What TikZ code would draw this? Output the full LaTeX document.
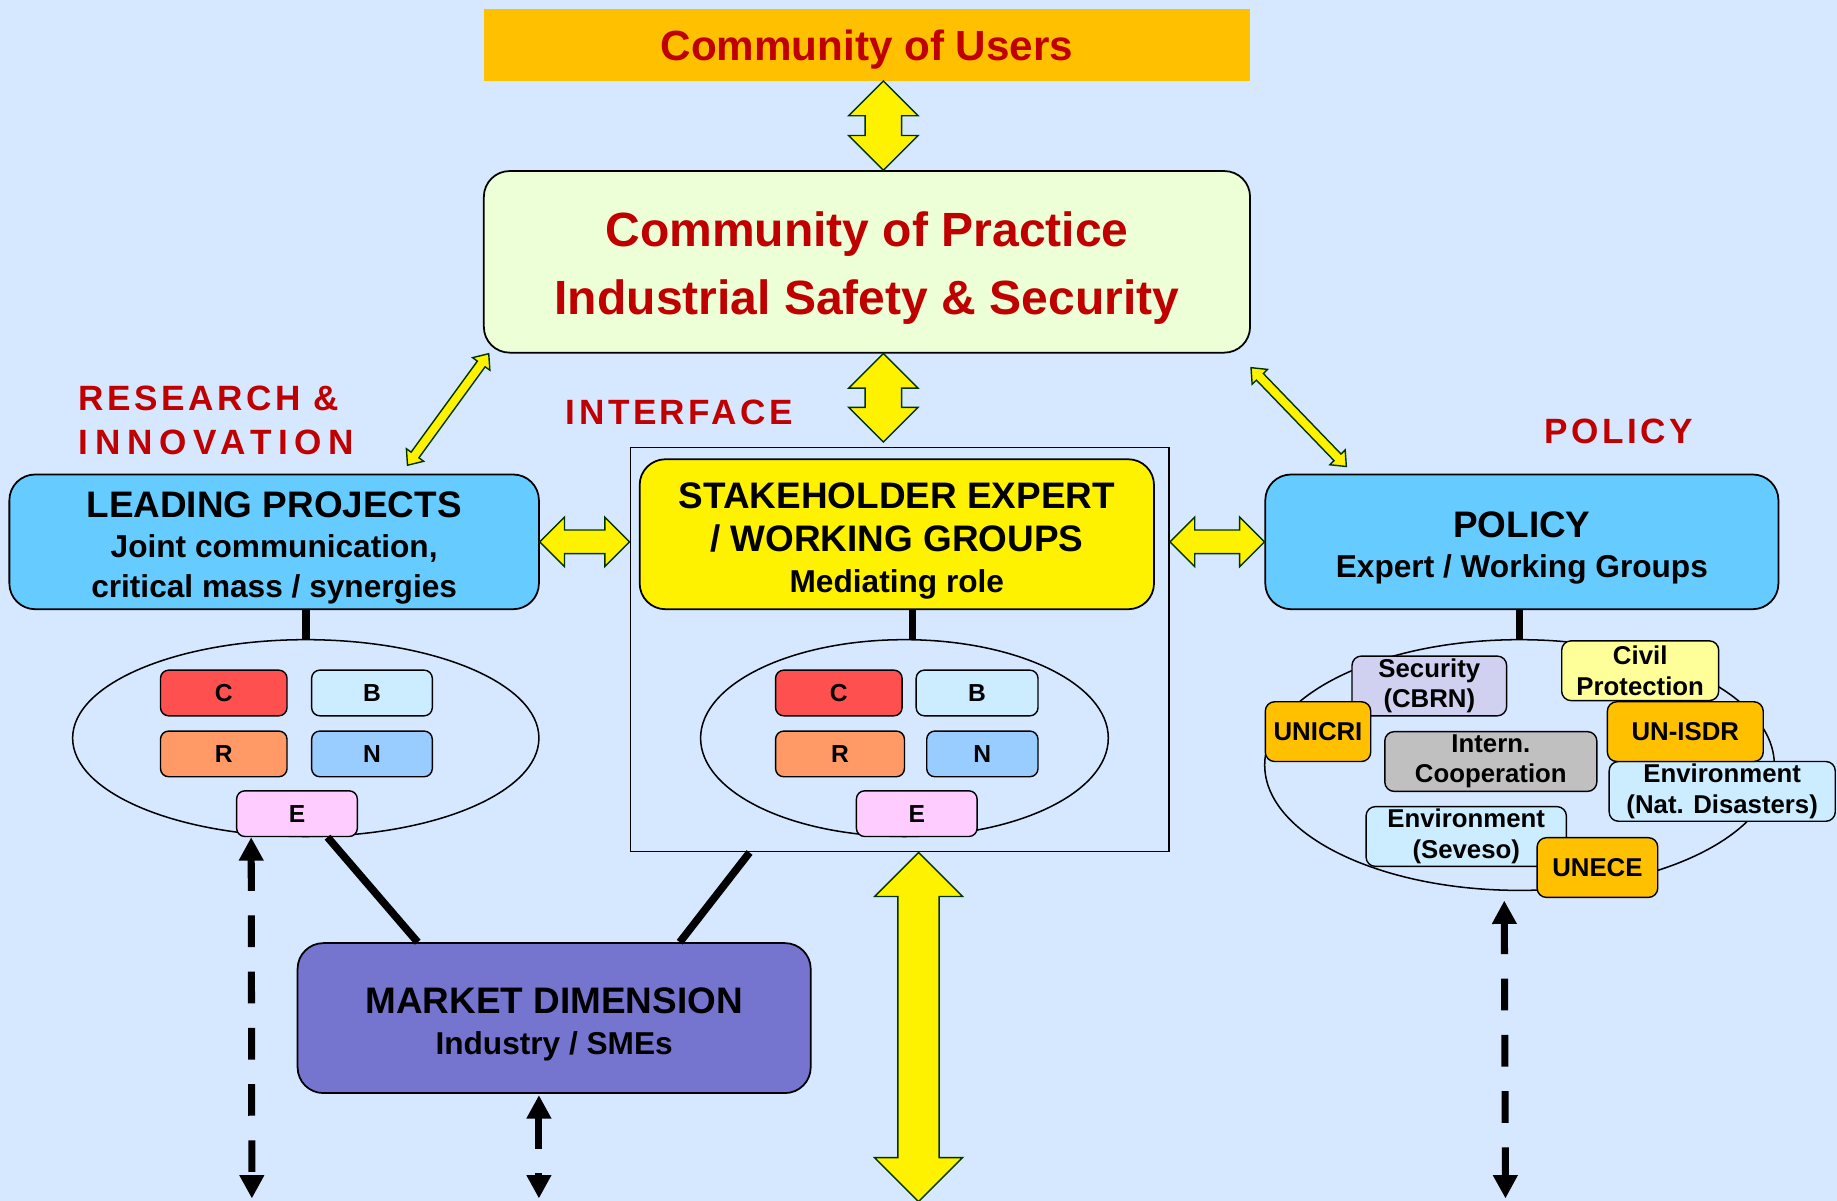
\documentclass[tikz,border=0pt]{standalone}
\usepackage{fontspec}
\setmainfont{Liberation Sans}
\usepackage{tikz}
\usetikzlibrary{positioning,calc,shapes.geometric,shapes.arrows,arrows.meta}

\definecolor{bgblue}{RGB}{214,232,255}
\definecolor{darkred}{RGB}{192,0,0}
\definecolor{usersorange}{RGB}{255,192,0}
\definecolor{copgreen}{RGB}{236,255,214}
\definecolor{lpblue}{RGB}{102,204,255}
\definecolor{mktviolet}{RGB}{117,117,207}
\definecolor{arrowgreen}{RGB}{0,51,0}
\definecolor{tagC}{RGB}{255,80,80}
\definecolor{tagB}{RGB}{204,236,255}
\definecolor{tagR}{RGB}{255,153,102}
\definecolor{tagN}{RGB}{153,204,255}
\definecolor{tagE}{RGB}{255,204,255}
\definecolor{seclilac}{RGB}{208,208,240}
\definecolor{civyellow}{RGB}{255,255,153}
\definecolor{interngray}{RGB}{192,192,192}

\tikzset{
bigbox/.style = {draw, line width=1.5pt, rounded corners=22pt, inner sep=0pt, align=center,
                 font=\fontsize{27}{34}\selectfont\bfseries},
tag/.style = {draw, line width=1.2pt, rounded corners=7pt, inner sep=0pt,
              minimum height=39, font=\fontsize{21}{24}\selectfont\bfseries},
orgbox/.style = {draw, line width=1.2pt, rounded corners=8pt, inner sep=0pt, minimum height=51,
                 align=center, font=\fontsize{22}{26}\selectfont\bfseries},
group/.style = {ellipse, draw, line width=1.3pt, inner sep=0pt},
stem/.style = {line width=6.5pt},
yarrow/.style = {double arrow, draw=arrowgreen, fill=yellow, line width=1.2pt, inner xsep=0pt, sloped},
dasharrow/.style = {line width=6pt, dash pattern=on 27pt off 21pt,
                    {Triangle[width=20pt,length=20pt]}-{Triangle[width=20pt,length=20pt]}},
redlabel/.style = {text=darkred, align=left, inner sep=0pt,
                   font=\fontsize{30}{38}\selectfont\bfseries\addfontfeature{LetterSpace=10}}
}

% invisible strut that pushes the text of a box a little down
\newcommand{\topstrut}[1]{\rule{0pt}{#1pt}}

% yellow block arrow between two points: [tip angle]{from}{to}{half shaft}{head extend}
\newcommand{\yconnect}[5][90]{%
  \path let \p1=(#2), \p2=(#3), \n1={veclen(\x2-\x1,\y2-\y1)} in
    (\p1) -- node[yarrow, double arrow tip angle=#1, minimum height=\n1,
      inner ysep=#4, double arrow head extend=#5] {} (\p2);
}

\begin{document}
\begin{tikzpicture}[x=1pt, y=-1pt]
\fill[bgblue] (0,0) rectangle (1568,1025);
\useasboundingbox (0,0) rectangle (1568,1025);

% community nodes
\node[fill=usersorange, minimum width=654, minimum height=61, inner sep=0pt, text=darkred,
      font=\fontsize{36}{40}\selectfont\bfseries] (users) at (740,38.5) {\topstrut{34}Community of Users};
\node[bigbox, fill=copgreen, minimum width=654, minimum height=155, text=darkred,
      font=\fontsize{41}{58}\selectfont\bfseries] (cop) at (740,223.5)
      {\topstrut{40}Community of Practice\\Industrial Safety \& Security};

% side labels
\node[redlabel, anchor=west] (resinno) at (67,359)
      {RESEARCH \&\\{\addfontfeature{LetterSpace=19}INNOVATION}};
\node[redlabel] (interface) at (580,352) {INTERFACE};
\node[redlabel] (policylab) at (1382,368) {POLICY};

% interface frame
\node[draw, line width=1.3pt, minimum width=460, minimum height=345, inner sep=0pt] (iface) at (768,554.5) {};

% main boxes
\node[bigbox, fill=lpblue, minimum width=452, minimum height=115] (lp) at (234,462.5)
      {{\fontsize{31.5}{34}\selectfont\topstrut{33}LEADING PROJECTS}\\Joint communication,\\critical mass / synergies};
\node[bigbox, fill=yellow, minimum width=439, minimum height=128, font=\fontsize{27}{35}\selectfont\bfseries] (swg) at (765.5,456)
      {{\fontsize{31.5}{35}\selectfont\topstrut{33}STAKEHOLDER EXPERT}\\[2pt]{\fontsize{31.5}{35}\selectfont / WORKING GROUPS}\\Mediating role};
\node[bigbox, fill=lpblue, minimum width=438, minimum height=115] (pol) at (1299,462.5)
      {{\fontsize{31.5}{34}\selectfont\topstrut{33}POLICY}\\Expert / Working Groups};
\node[bigbox, fill=mktviolet, minimum width=438, minimum height=128, font=\fontsize{27}{35}\selectfont\bfseries] (mkt) at (473,869)
      {{\fontsize{31.5}{35}\selectfont\topstrut{33}MARKET DIMENSION}\\Industry / SMEs};

% research group
\node[group, minimum width=398, minimum height=168] (lgroup) at (261,630) {};
\node[tag, fill=tagC, minimum width=108] (lC) at (191,591.5) {C};
\node[tag, fill=tagB, minimum width=103] (lB) at (317.5,591.5) {B};
\node[tag, fill=tagR, minimum width=108] (lR) at (191,643.5) {R};
\node[tag, fill=tagN, minimum width=103] (lN) at (317.5,643.5) {N};
\node[tag, fill=tagE, minimum width=103] (lE) at (253.5,694.5) {E};

% interface group
\node[group, minimum width=348, minimum height=168] (cgroup) at (772,630) {};
\node[tag, fill=tagC, minimum width=108] (cC) at (716,591.5) {C};
\node[tag, fill=tagB, minimum width=104] (cB) at (834,591.5) {B};
\node[tag, fill=tagR, minimum width=110] (cR) at (717,643.5) {R};
\node[tag, fill=tagN, minimum width=95] (cN) at (838.5,643.5) {N};
\node[tag, fill=tagE, minimum width=103] (cE) at (782.5,694.5) {E};

% policy group
\node[group, minimum width=435, minimum height=214] (pgroup) at (1297,653) {};
\node[orgbox, fill=seclilac, minimum width=132] (sec) at (1220,585.5) {Security\\(CBRN)};
\node[orgbox, fill=civyellow, minimum width=134] (civ) at (1400,572.5) {Civil\\Protection};
\node[orgbox, fill=interngray, minimum width=181] (intern) at (1272.5,650) {Intern.\\Cooperation};
\node[orgbox, fill=tagB, minimum width=193] (envnat) at (1470,675.5) {Environment\\(Nat. Disasters)};
\node[orgbox, fill=tagB, minimum width=171] (envsev) at (1251.5,714) {Environment\\(Seveso)};
\node[orgbox, fill=usersorange, minimum width=90] (unicri) at (1125,624.5) {UNICRI};
\node[orgbox, fill=usersorange, minimum width=133] (unisdr) at (1438.5,624.5) {UN-ISDR};
\node[orgbox, fill=usersorange, minimum width=103] (unece) at (1363.5,740.5) {UNECE};

% stems and links
\draw[stem] (lp.south -| lgroup.north) -- (lgroup.north);
\draw[stem] (swg.south -| 779,0) -- (cgroup.north -| 779,0);
\draw[stem] (pol.south -| pgroup.north) -- (pgroup.north);
\draw[stem] ($(lE.south)!0.5!(lE.south east)$) -- ($(mkt.north west)!0.235!(mkt.north east)$);
\draw[stem] ($(iface.south west)!0.222!(iface.south east)$) -- ($(mkt.north west)!0.744!(mkt.north east)$);

% yellow block arrows
\yconnect{$(users.south)+(14,0)$}{$(cop.north)+(14,0)$}{15}{14}
\yconnect{$(cop.south)+(14,0)$}{$(iface.north)+(-14,-4)$}{15}{14}
\yconnect{lp.east}{lp.east -| iface.west}{9.5}{11}
\yconnect{pol.west -| iface.east}{pol.west}{9.5}{11}
\yconnect{$(iface.south)+(16,0)$}{$(iface.south)+(16,298)$}{17}{20}
\yconnect[80]{$(cop.south west)+(5,0)$}{$(lp.north east)+(-113,-7)$}{3.5}{5}
\yconnect[80]{$(cop.south east)+(0,12)$}{$(pol.north west)+(70,-6)$}{3.5}{5}

% dashed arrows
\coordinate (ldown) at (215,1023);
\coordinate (mdown) at (460,1023);
\coordinate (rdown) at (1285,1023);
\draw[dasharrow] ($(lE.south west)+(13,0)$) -- (ldown);
\draw[dasharrow] ($(mkt.south)+(-13,1)$) -- (mdown);
\draw[dasharrow] ($(pgroup.south)+(-13,8)$) -- (rdown);
\end{tikzpicture}
\end{document}
